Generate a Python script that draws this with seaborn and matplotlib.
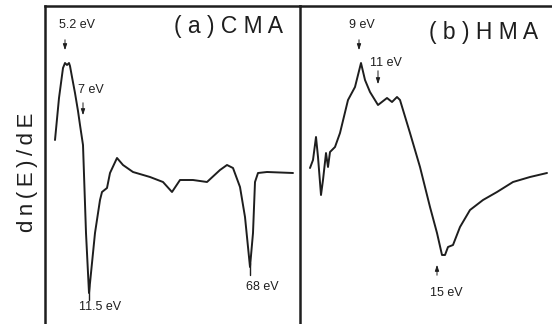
import matplotlib
matplotlib.use("Agg")
import matplotlib.pyplot as plt
import seaborn as sns
import numpy as np

sns.set_theme(style="white")
plt.rcParams['font.family'] = ['Liberation Sans', 'DejaVu Sans']

# (a) CMA spectrum: position (arb. channel) and dn(E)/dE (arb. units)
cma_x = [10, 14, 18, 20, 22, 24, 25, 27, 30, 33, 35, 38, 41, 44, 50, 55, 57, 62, 65,
         72, 78, 88, 105, 118, 127, 135, 148, 162, 175, 182, 188, 195, 200, 205, 208,
         210, 213, 222, 248]
cma_y = [33, 75, 105, 110, 108, 110, 107, 96, 80, 62, 48, 28, -60, -120, -60, -27,
         -19, -15, 0, 15, 8, 1, -4, -9, -19, -7, -7, -9, 3, 8, 5, -14, -44, -94, -60,
         -9, 0, 1, 0]

# (b) HMA spectrum
hma_x = [10, 13, 16, 18, 21, 23, 26, 28, 30, 35, 40, 48, 55, 61, 65, 70, 78, 87, 92,
         97, 100, 110, 120, 130, 137, 142, 145, 148, 153, 160, 170, 183, 197, 213, 230,
         247]
hma_y = [5, 13, 36, 16, -22, -7, 20, 6, 21, 26, 40, 73, 86, 110, 93, 81, 68, 75, 71,
         76, 73, 40, 6, -34, -60, -82, -82, -74, -72, -54, -37, -27, -19, -9, -4, 0]

# annotation labels: (text, arrow x, text x, text y, arrow tip y, arrow tail y)
cma_notes = [("5.2 eV", 20, 32, 148, 120, 136),
             ("7 eV", 38, 46, 83, 55, 73)]
hma_notes = [("9 eV", 59, 62, 148, 120, 136),
             ("11 eV", 78, 86, 110, 86, 105)]

W, H = 552, 324
fig = plt.figure(figsize=(W / 100, H / 100), dpi=100)

ax1 = fig.add_axes([45 / W, 0, (300 - 45) / W, (H - 6) / H])
ax2 = fig.add_axes([300 / W, 0, (W - 300 + 5) / W, (H - 6) / H])

ink = "#1e1e1e"
for ax, xs, ys, xmax in [(ax1, cma_x, cma_y, 255), (ax2, hma_x, hma_y, 257)]:
    sns.lineplot(x=xs, y=ys, ax=ax, sort=False, estimator=None, color=ink, lw=1.4)
    ax.set_xlim(0, xmax)
    ax.set_ylim(-151, 167)
    ax.set_xticks([])
    ax.set_yticks([])
    for s in ax.spines.values():
        s.set_color(ink)
        s.set_linewidth(1.8)
    ax.spines['bottom'].set_visible(False)
    ax.patch.set_alpha(0)
ax2.spines['right'].set_visible(False)
ax2.spines['left'].set_visible(False)

arrow = dict(arrowstyle="-|>,head_length=0.3,head_width=0.1", color=ink, lw=0.7)

for ax, notes in [(ax1, cma_notes), (ax2, hma_notes)]:
    for txt, x, tx, ty, tip, tail in notes:
        ax.text(tx, ty, txt, ha="center", va="center", fontsize=9, color=ink)
        ax.annotate("", xy=(x, tip), xytext=(x, tail), arrowprops=arrow)

# lower labels (lines from minima)
ax1.plot([44, 44], [-112, -127], color=ink, lw=1.0)
ax1.text(55, -134, "11.5 eV", ha="center", va="center", fontsize=9, color=ink)
ax1.plot([205, 205], [-90, -102], color=ink, lw=1.0)
ax1.text(217, -114, "68 eV", ha="center", va="center", fontsize=9, color=ink)
ax2.annotate("", xy=(137, -89), xytext=(137, -105), arrowprops=arrow)
ax2.text(146, -120, "15 eV", ha="center", va="center", fontsize=9, color=ink)

ax1.text(183, 146, "( a ) C M A", ha="center", va="center", fontsize=16.5, color=ink)
ax2.text(184, 141, "( b ) H M A", ha="center", va="center", fontsize=16.5, color=ink)

ts = "\u2009"
fig.text(27 / W, 1 - 172 / H, ts.join("dn(E)/dE"), rotation=90, ha="center",
         va="center", fontsize=16, color=ink)

fig.savefig("out.png", dpi=100, facecolor="white")
